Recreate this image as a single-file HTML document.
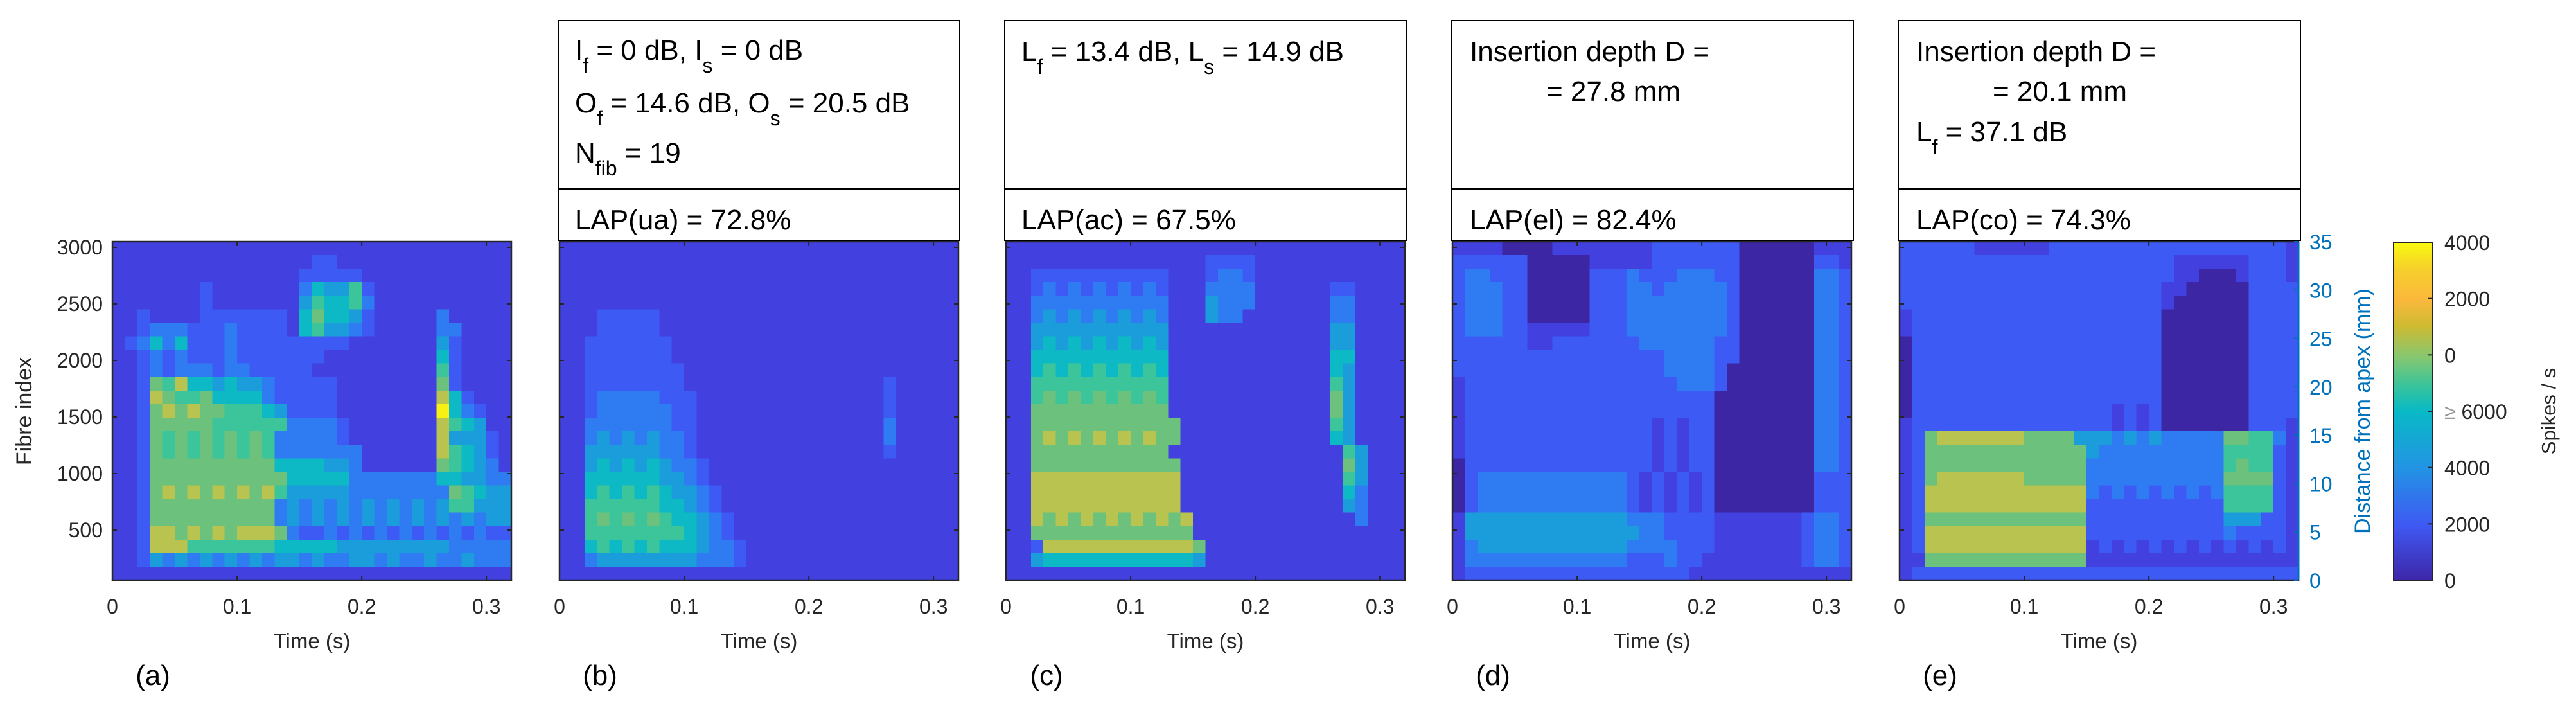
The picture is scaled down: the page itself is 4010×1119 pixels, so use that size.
<!DOCTYPE html>
<html><head><meta charset="utf-8"><style>
html,body{margin:0;padding:0;background:#fff;}
svg{display:block;font-family:"Liberation Sans",Arial,sans-serif;}
</style></head><body>
<svg id="fig" width="4010" height="1119" viewBox="0 0 4010 1119" xmlns="http://www.w3.org/2000/svg">
<defs>
<linearGradient id="parula" x1="0" y1="1" x2="0" y2="0">
<stop offset="0" stop-color="#3e26a8"/><stop offset="0.16" stop-color="#3f58f3"/>
<stop offset="0.33" stop-color="#2393e4"/><stop offset="0.5" stop-color="#08b9c6"/>
<stop offset="0.58" stop-color="#3cc498"/><stop offset="0.66" stop-color="#86c771"/>
<stop offset="0.75" stop-color="#cdbb32"/><stop offset="0.83" stop-color="#fbb83c"/>
<stop offset="0.92" stop-color="#f6cf2c"/><stop offset="1" stop-color="#f9fb0e"/>
</linearGradient>
</defs>
<g id="cells"></g>
<g id="axes"></g>

<g>
<rect x="869" y="32" width="625" height="342" fill="#fff" stroke="#000" stroke-width="2"/>
<line x1="869" y1="294" x2="1494" y2="294" stroke="#000" stroke-width="2"/>
<text x="895" y="93" font-size="44">I<tspan dy="20" font-size="32">f</tspan><tspan dy="-20"> = 0 dB, I</tspan><tspan dy="20" font-size="32">s</tspan><tspan dy="-20"> = 0 dB</tspan></text>
<text x="895" y="175" font-size="44">O<tspan dy="20" font-size="32">f</tspan><tspan dy="-20"> = 14.6 dB, O</tspan><tspan dy="20" font-size="32">s</tspan><tspan dy="-20"> = 20.5 dB</tspan></text>
<text x="895" y="253" font-size="44">N<tspan dy="20" font-size="32">fib</tspan><tspan dy="-20"> = 19</tspan></text>
<text x="895" y="357" font-size="44">LAP(ua) = 72.8%</text>
</g>
<g>
<rect x="1564" y="32" width="625" height="342" fill="#fff" stroke="#000" stroke-width="2"/>
<line x1="1564" y1="294" x2="2189" y2="294" stroke="#000" stroke-width="2"/>
<text x="1590" y="95" font-size="44">L<tspan dy="20" font-size="32">f</tspan><tspan dy="-20"> = 13.4 dB, L</tspan><tspan dy="20" font-size="32">s</tspan><tspan dy="-20"> = 14.9 dB</tspan></text>
<text x="1590" y="357" font-size="44">LAP(ac) = 67.5%</text>
</g>
<g>
<rect x="2260" y="32" width="625" height="342" fill="#fff" stroke="#000" stroke-width="2"/>
<line x1="2260" y1="294" x2="2885" y2="294" stroke="#000" stroke-width="2"/>
<text x="2288" y="95" font-size="44">Insertion depth D =</text>
<text x="2407" y="157" font-size="44">= 27.8 mm</text>
<text x="2288" y="357" font-size="44">LAP(el) = 82.4%</text>
</g>
<g>
<rect x="2955" y="32" width="626" height="342" fill="#fff" stroke="#000" stroke-width="2"/>
<line x1="2955" y1="294" x2="3581" y2="294" stroke="#000" stroke-width="2"/>
<text x="2983" y="95" font-size="44">Insertion depth D =</text>
<text x="3102" y="157" font-size="44">= 20.1 mm</text>
<text x="2983" y="220" font-size="44">L<tspan dy="20" font-size="32">f</tspan><tspan dy="-20"> = 37.1 dB</tspan></text>
<text x="2983" y="357" font-size="44">LAP(co) = 74.3%</text>
</g>

<g>
<rect x="3726" y="377" width="61" height="526" fill="url(#parula)" stroke="#262626" stroke-width="2"/>
</g>
<g id="cbticks"></g>
<text transform="translate(3978,640) rotate(-90)" text-anchor="middle" font-size="31" fill="#262626">Spikes / s</text>
</svg>
<script>
const xTicks = [0, 0.1, 0.2, 0.3];
const xTickLabels = ["0", "0.1", "0.2", "0.3"];
const yTicks = [500, 1000, 1500, 2000, 2500, 3000];
const mmTicks = [0, 5, 10, 15, 20, 25, 30, 35];
const cbLabels = ["0", "2000", "4000", "6000", "0", "2000", "4000"];
const panelLetters = ["(a)", "(b)", "(c)", "(d)", "(e)"];
const timeStep = 0.01;
const fibreMin = 57, fibreMax = 3051;
const mmMin = 0, mmMax = 35;
const tMax = 0.32;

const gridA = [
"11111111111111111111111111111111",
"11111111111111112211111111111111",
"11111111111111122222111111111111",
"11111112111111135446211111111111",
"11111112111111146556311111111111",
"11211112222222157554211111311111",
"11233322232222156443211111331111",
"12353522232222222221111111421111",
"11232322232222222111111111521111",
"11232333233222221111111111621111",
"11276855454432222211111111721111",
"11287667555532222211111111852111",
"11278787766654222211111111953211",
"11277777666666333321111111865411",
"11276767676763333321111111844421",
"11276767676763333333111111865421",
"11277777777775555443111111765431",
"11277777777777555553333333554433",
"11278787878786444443333333376544",
"11277777777773434343434343466444",
"11277777777773434343434343434344",
"11288787878887322323232323232322",
"11288866666665555544444444433333",
"11243434343434434334434334334333",
"11111111111111111111111111111111"];
const gridB = [
"11111111111111111111111111111111",
"11111111111111111111111111111111",
"11111111111111111111111111111111",
"11111111111111111111111111111111",
"11111111111111111111111111111111",
"11122222111111111111111111111111",
"11122222111111111111111111111111",
"11222222211111111111111111111111",
"11222222211111111111111111111111",
"11222222221111111111111111111111",
"11222222221111111111111111211111",
"11233333222111111111111111211111",
"11233333322111111111111111211111",
"11333333322111111111111111311111",
"11343434332111111111111111311111",
"11444444332111111111111111211111",
"11454545433211111111111111111111",
"11555555443211111111111111111111",
"11565656544321111111111111111111",
"11666666554321111111111111111111",
"11676767655432111111111111111111",
"11666666665432111111111111111111",
"11565656555433211111111111111111",
"11344444444333211111111111111111",
"11111111111111111111111111111111"];
const gridC = [
"11111111111111111111111111111111",
"11111111111111112222111111111111",
"11222222222221112332111111111111",
"11232323232321113333111111221111",
"11333333333331114333111111331111",
"11343434343431114331111111331111",
"11444444444441111111111111441111",
"11454545454541111111111111441111",
"11555555555551111111111111551111",
"11565656565651111111111111541111",
"11666666666661111111111111641111",
"11676767676761111111111111741111",
"11777777777771111111111111741111",
"11777777777777111111111111641111",
"11787878787877111111111111541111",
"11777777777771111111111111164111",
"11777777777777111111111111174111",
"11888888888888111111111111164111",
"11888888888888111111111111153111",
"11888888888888111111111111143111",
"11878787878787811111111111113111",
"11777777777777711111111111111111",
"11288888888888871111111111111111",
"11455555555555541111111111111111",
"11111111111111111111111111111111"];
const gridD = [
"11110000111111112222222000000111",
"22222200000111112222222000000221",
"23322200000222322233322000000332",
"23332200000222332333332000000332",
"23332200000222333333332000000332",
"23332200000222333333332000000332",
"23332211111222333333332000000332",
"22222211222222233333322000000332",
"22222222222222222333322000000332",
"22222222222222222333320000000332",
"12222222222222222233320000000332",
"12222222222222222222200000000332",
"12222222222222222222200000000332",
"12222222222222221212200000000332",
"12222222222222221212200000000332",
"12222222222222221212200000000332",
"02222222222222221212200000000332",
"02333333333333212121200000000222",
"02333333333333212121200000000222",
"02333333333333212121200000000222",
"14444444444444333222211111112332",
"14444444444444433222211111112332",
"13444444444444333322211111112332",
"13333333333333222322111111112332",
"12222222222222222221111111111111"];
const gridE = [
"22222211111122222222222222222221",
"22222222222222222222221111112221",
"22222222222222222222221100012221",
"22222222222222222222211000002222",
"22222222222222222222210000002222",
"12222222222222222222200000002222",
"12222222222222222222200000002222",
"02222222222222222222200000002222",
"02222222222222222222200000002222",
"02222222222222222222200000002222",
"02222222222222222222200000002222",
"02222222222222222222200000002222",
"02222222222222222121200000002222",
"12222222222222222121200000002221",
"12788888887777444343433333776631",
"12777777777777743333333333666621",
"12777777777777733333333333676621",
"12788888887777733333333333777721",
"12888888888888832323232323666621",
"12888888888888822222222222666621",
"12777777777777722222222222444221",
"12888888888888822222222222322221",
"12888888888888812121212121212121",
"11777777777777711111111111111111",
"12222222222222222222222222222222"];
const levelColors = ["#3c26a4","#4340e0","#3d5af5","#2f7cf2","#1c9ddb","#0cb9c4","#3cc59a","#6cc17c","#b9c450","#f7f014"];

const grids = [gridA, gridB, gridC, gridD, gridE];
const panelLeft = [175, 871, 1566, 2261, 2957];
const plotW = 621, plotTop = 376, plotBottom = 903;
const NS = "http://www.w3.org/2000/svg";
function mk(tag, attrs, parent) {
  const el = document.createElementNS(NS, tag);
  for (const k in attrs) el.setAttribute(k, attrs[k]);
  parent.appendChild(el);
  return el;
}
function xScale(p, t) { return panelLeft[p] + (t / tMax) * plotW; }
function yScale(f) { return plotBottom - (f - fibreMin) / (fibreMax - fibreMin) * (plotBottom - plotTop); }
function mmScale(m) { return plotBottom - (m - mmMin) / (mmMax - mmMin) * (plotBottom - plotTop); }

const cellsG = document.getElementById('cells');
const axesG = document.getElementById('axes');
const letters = ["a","b","c","d","e"];

grids.forEach((grid, p) => {
  const g = mk('g', {'shape-rendering': 'crispEdges'}, cellsG);
  
  
  const nRows = grid.length;
  const step = (fibreMax - fibreMin) / nRows;
  grid.forEach((row, i) => {
    const fTop = fibreMax - i * step, fBot = fibreMax - (i + 1) * step;
    const y0 = yScale(fTop), y1 = yScale(fBot);
    for (let j = 0; j < row.length; j++) {
      const x0 = xScale(p, j * timeStep), x1 = xScale(p, Math.min((j + 1) * timeStep, tMax));
      const r = mk('rect', {x: x0.toFixed(2), y: y0.toFixed(2), width: (x1 - x0 + 0.6).toFixed(2), height: (y1 - y0 + 0.6).toFixed(2), fill: levelColors[+row[j]]}, g);
      
      
    }
  });

  const L = panelLeft[p], R = L + plotW;
  const frame = mk('rect', {x: L, y: plotTop, width: plotW, height: plotBottom - plotTop, fill: 'none', stroke: '#262626', 'stroke-width': 2.5}, axesG);
  
  
  if (p === 4) {
    const rl = mk('line', {x1: R, y1: plotTop, x2: R, y2: plotBottom, stroke: '#0072BD', 'stroke-width': 3}, axesG);
    
    
  }
  xTicks.forEach((t, k) => {
    const x = xScale(p, t);
    if (k > 0) {
      mk('line', {x1: x, y1: plotBottom, x2: x, y2: plotBottom - 7, stroke: '#262626', 'stroke-width': 2}, axesG);
      mk('line', {x1: x, y1: plotTop, x2: x, y2: plotTop + 7, stroke: '#262626', 'stroke-width': 2}, axesG);
    }
    const tl = mk('text', {x: x, y: 955, 'text-anchor': 'middle', 'font-size': 32, fill: '#262626'}, axesG);
    tl.textContent = xTickLabels[k];
    
    
  });
  yTicks.forEach(v => {
    const y = yScale(v);
    mk('line', {x1: L, y1: y, x2: L + 7, y2: y, stroke: '#262626', 'stroke-width': 2}, axesG);
    if (p < 4) mk('line', {x1: R, y1: y, x2: R - 7, y2: y, stroke: '#262626', 'stroke-width': 2}, axesG);
    if (p === 0) {
      const yl = mk('text', {x: 160, y: y + 11, 'text-anchor': 'end', 'font-size': 32, fill: '#262626'}, axesG);
      yl.textContent = String(v);
      
      
    }
  });
  const xt = mk('text', {x: L + plotW / 2, y: 1009, 'text-anchor': 'middle', 'font-size': 33, fill: '#262626'}, axesG);
  xt.textContent = 'Time (s)';
  
  
  const pl = mk('text', {x: L + 63, y: 1066, 'text-anchor': 'middle', 'font-size': 44, fill: '#000'}, axesG);
  pl.textContent = panelLetters[p];
  
  
});

const yt = mk('text', {transform: 'translate(49,640) rotate(-90)', 'text-anchor': 'middle', 'font-size': 34, fill: '#262626'}, axesG);
yt.textContent = 'Fibre index';



const eR = panelLeft[4] + plotW;
mmTicks.forEach(m => {
  const y = mmScale(m);
  mk('line', {x1: eR, y1: y, x2: eR - 7, y2: y, stroke: '#0072BD', 'stroke-width': 2}, axesG);
  const ml = mk('text', {x: 3595, y: y + 12, 'font-size': 32, fill: '#0072BD'}, axesG);
  ml.textContent = String(m);
  
  
});
const rt = mk('text', {transform: 'translate(3689,640) rotate(-90)', 'text-anchor': 'middle', 'font-size': 34, fill: '#0072BD'}, axesG);
rt.textContent = 'Distance from apex (mm)';



const cbG = document.getElementById('cbticks');
const cbTop = 377, cbBot = 903;
cbLabels.forEach((lab, k) => {
  const y = cbBot - k * (cbBot - cbTop) / (cbLabels.length - 1);
  if (k > 0 && k < cbLabels.length - 1) mk('line', {x1: 3787, y1: y, x2: 3780, y2: y, stroke: '#262626', 'stroke-width': 2}, cbG);
  const t = mk('text', {x: 3805, y: y + 12, 'font-size': 32, fill: '#262626'}, cbG);
  if (k === 3) {
    const ge = mk('tspan', {fill: '#999999'}, t);
    ge.textContent = '\u2265 ';
    const num = mk('tspan', {}, t);
    num.textContent = lab;
  } else {
    t.textContent = lab;
  }
  
  
});
</script>
</body></html>
